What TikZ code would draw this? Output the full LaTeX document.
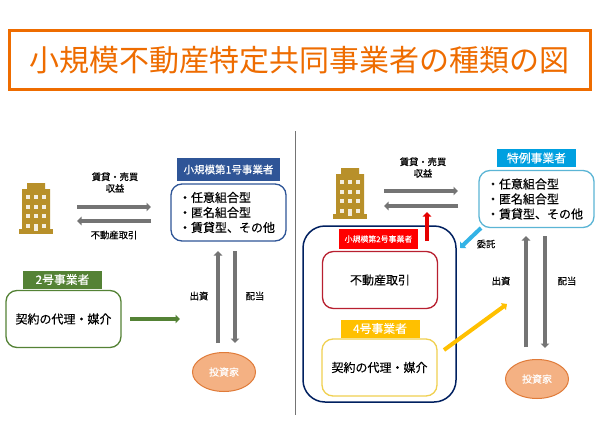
\documentclass[tikz,border=0pt]{standalone}
\usepackage{fontspec}
\setmainfont{Noto Sans CJK JP}
\newfontfamily\medjp[FakeBold=0.25]{Noto Sans CJK JP}
\usetikzlibrary{arrows.meta,shapes.geometric}
\definecolor{orangeT}{HTML}{EE6C00}
\definecolor{blueA}{HTML}{2F5597}
\definecolor{greenA}{HTML}{548235}
\definecolor{greyA}{HTML}{747474}
\definecolor{goldA}{HTML}{B8902A}
\definecolor{skyA}{HTML}{00A0E0}
\definecolor{skyB}{HTML}{5BB5D5}
\definecolor{navyA}{HTML}{002060}
\definecolor{yellowA}{HTML}{FFC000}
\definecolor{yellowB}{HTML}{F0D050}
\definecolor{darkred}{HTML}{B82030}
\definecolor{ellF}{HTML}{F4B183}
\definecolor{ellD}{HTML}{E07B39}
\tikzset{
  x=1pt,y=-1pt,
  roundbox/.style={draw,fill=white,rounded corners=11pt,line width=1.3pt,inner sep=0pt,minimum width=#1},
  roundbox/.default=115pt,
  listbox/.style={roundbox,minimum height=57pt,text width=99pt,inner xsep=8pt,align=left,font=\fontsize{12}{15}\selectfont\medjp},
  singlebox/.style={roundbox,minimum height=57pt,font=\fontsize{12}{14}\selectfont\medjp},
  header/.style={inner sep=0pt,text=white,font=\fontsize{11.8}{13}\selectfont\medjp,minimum width=79pt,minimum height=18pt},
  lab/.style={inner sep=0pt,align=center,font=\fontsize{9.3}{11.5}\selectfont\medjp},
  investor/.style={ellipse,draw=ellD,fill=ellF,line width=1pt,text=white,minimum width=63pt,minimum height=39pt,inner sep=0pt,font=\fontsize{10}{12}\selectfont\medjp},
  flow/.style={draw=greyA,line width=4pt,-{Triangle[length=4.5pt,width=8.5pt]}},
  flowc/.style={line width=4pt,-{Triangle[length=4.5pt,width=8.5pt]}},
}
\newcommand{\bldg}[3]{%
\begin{scope}[shift={(#1,#2)}]
\node[inner sep=0pt,minimum size=0pt] (#3) at (17,25) {};
\fill[goldA] (3,48) -- (3,6) -- (8,6) -- (8,0) -- (26,0) -- (26,6) -- (31,6) -- (31,48) -- cycle;
\fill[goldA] (0,46) rectangle (34,51);
\foreach \yy in {12,22,31,41}{\foreach \xx in {7,15,23}{\fill[white!85!goldA] (\xx,\yy) rectangle ++(4,4);}}
\fill[white!85!goldA] (15,41) rectangle (19,48);
\end{scope}}
\begin{document}
\begin{tikzpicture}
\useasboundingbox (0,0) rectangle (599,444);
\fill[white] (0,0) rectangle (599,444);
% title
\node[draw=orangeT,line width=3pt,minimum width=581pt,minimum height=58pt,inner sep=0pt,text=orangeT,font=\fontsize{30}{32}\selectfont] (title) at (299.5,60) {小規模不動産特定共同事業者の種類の図};
% divider
\coordinate (divT) at (295,131);
\coordinate (divB) at (295,415);
\draw[draw=greyA,line width=1pt] (divT) -- (divB);
% LEFT
\bldg{19}{183}{bL}
\node[header,fill=blueA,minimum width=103pt,minimum height=23pt,font=\fontsize{10.5}{12}\selectfont\medjp] (h1) at (228.5,169.5) {小規模第1号事業者};
\node[listbox,draw=blueA] (l1) at (228.5,212.5) {・任意組合型\\・匿名組合型\\・賃貸型、その他};
\node[lab] (t1) at (115,182.5) {賃貸・売買\\収益};
\node[lab] (t2) at (114,235) {不動産取引};
\coordinate (a1s) at (77,207); \coordinate (a1e) at (151,207);
\coordinate (a2s) at (151,221); \coordinate (a2e) at (77,221);
\draw[flow] (a1s) -- (a1e);
\draw[flow] (a2s) -- (a2e);
\node[header,fill=greenA] (h2) at (62.5,279.5) {2号事業者};
\node[singlebox,draw=greenA] (l2) at (63.5,319) {契約の代理・媒介};
\coordinate (g1) at (130,319); \coordinate (g2) at (180,319);
\draw[flowc,draw=greenA] (g1) -- (g2);
\node[investor] (inv1) at (224,372) {投資家};
\coordinate (u1) at (218,343); \coordinate (u2) at (218,251);
\coordinate (d1) at (235,251); \coordinate (d2) at (235,343);
\draw[flow] (u1) -- (u2);
\draw[flow] (d1) -- (d2);
\node[lab] (t3) at (199,296) {出資};
\node[lab] (t4) at (255,296) {配当};
% RIGHT
\bldg{333}{168}{bR}
\node[header,fill=skyA] (h3) at (536.5,158) {特例事業者};
\node[listbox,draw=skyB] (r1) at (536.5,199) {・任意組合型\\・匿名組合型\\・賃貸型、その他};
\node[lab] (t5) at (423,167.5) {賃貸・売買\\収益};
\coordinate (b1s) at (384,191); \coordinate (b1e) at (458,191);
\coordinate (b2s) at (458,206); \coordinate (b2e) at (384,206);
\draw[flow] (b1s) -- (b1e);
\draw[flow] (b2s) -- (b2e);
% big frame
\node[draw=navyA,line width=1.5pt,rounded corners=22pt,minimum width=153pt,minimum height=176pt,inner sep=0pt] (frame) at (379.5,314) {};
\node[header,fill=red,minimum height=20pt,font=\fontsize{7.9}{9}\selectfont\medjp] (h4) at (378.5,239) {小規模第2号事業者};
\coordinate (ra) at (427,241); \coordinate (rb) at (427,212);
\draw[flowc,draw=red!90!black] (ra) -- (rb);
\node[singlebox,draw=darkred] (r2) at (380,280) {不動産取引};
\node[header,fill=yellowA] (h5) at (380,328.5) {4号事業者};
\node[singlebox,draw=yellowB] (r3) at (379.5,367.5) {契約の代理・媒介};
\coordinate (ya) at (444,350); \coordinate (yb) at (507,304);
\draw[flowc,draw=yellowA] (ya) -- (yb);
\coordinate (sa) at (481,228); \coordinate (sb) at (460,248);
\draw[flowc,draw=skyA!80!white] (sa) -- (sb);
\node[lab] (t6) at (486,244) {委託};
\node[investor] (inv2) at (537,379) {投資家};
\coordinate (v1) at (526,347); \coordinate (v2) at (526,236);
\coordinate (w1) at (545,236); \coordinate (w2) at (545,348);
\draw[flow] (v1) -- (v2);
\draw[flow] (w1) -- (w2);
\node[lab] (t7) at (501,281) {出資};
\node[lab] (t8) at (567,281) {配当};
\end{tikzpicture}
\end{document}
